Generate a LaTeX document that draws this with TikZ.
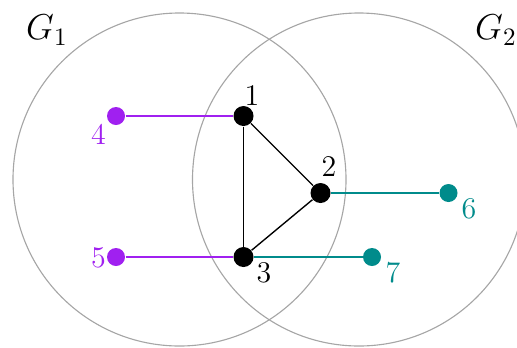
\documentclass[tikz,border=0pt]{standalone}
\definecolor{vpurple}{RGB}{160,32,240}
\definecolor{vteal}{RGB}{0,139,139}
\begin{document}
\begin{tikzpicture}[x=0.4pt,y=-0.4pt,
  region/.style={draw=black!35,line width=0.45pt},
  bnode/.style={circle,fill=black,inner sep=0pt,minimum size=8pt},
  pnode/.style={circle,fill=vpurple,inner sep=0pt,minimum size=7.2pt},
  tnode/.style={circle,fill=vteal,inner sep=0pt,minimum size=7.2pt},
  link/.style={line width=0.55pt},
  lbl/.style={inner sep=0pt,font=\large}]
\useasboundingbox (0,0) rectangle (517,347);
\clip (0,0) rectangle (517,347);
\draw[region] (179.5,179.5) circle[radius=166.5*0.4pt];
\draw[region] (359,179.5) circle[radius=166.5*0.4pt];
\node[inner sep=0pt,font=\Large] (g1) at (47,30) {$G_1$};
\node[inner sep=0pt,font=\Large] (g2) at (496,30) {$G_2$};
\node[bnode] (n1) at (243.5,116) {};
\node[bnode] (n2) at (320.5,193) {};
\node[bnode] (n3) at (243.5,257) {};
\node[pnode] (n4) at (116,116) {};
\node[pnode] (n5) at (116,257) {};
\node[tnode] (n6) at (448.5,193) {};
\node[tnode] (n7) at (372,257) {};
\draw[link] (n1) -- (n2);
\draw[link] (n2) -- (n3);
\draw[link] (n1) -- (n3);
\draw[link,draw=vpurple] (n4) -- (n1);
\draw[link,draw=vpurple] (n5) -- (n3);
\draw[link,draw=vteal] (n2) -- (n6);
\draw[link,draw=vteal] (n3) -- (n7);
\node[lbl] (l1) at (252,95.5) {1};
\node[lbl] (l2) at (329,167) {2};
\node[lbl] (l3) at (264,273) {3};
\node[lbl,vpurple] (l4) at (98.5,134) {4};
\node[lbl,vpurple] (l5) at (98.5,258) {5};
\node[lbl,vteal] (l6) at (469,209) {6};
\node[lbl,vteal] (l7) at (393,273) {7};
\end{tikzpicture}
\end{document}
